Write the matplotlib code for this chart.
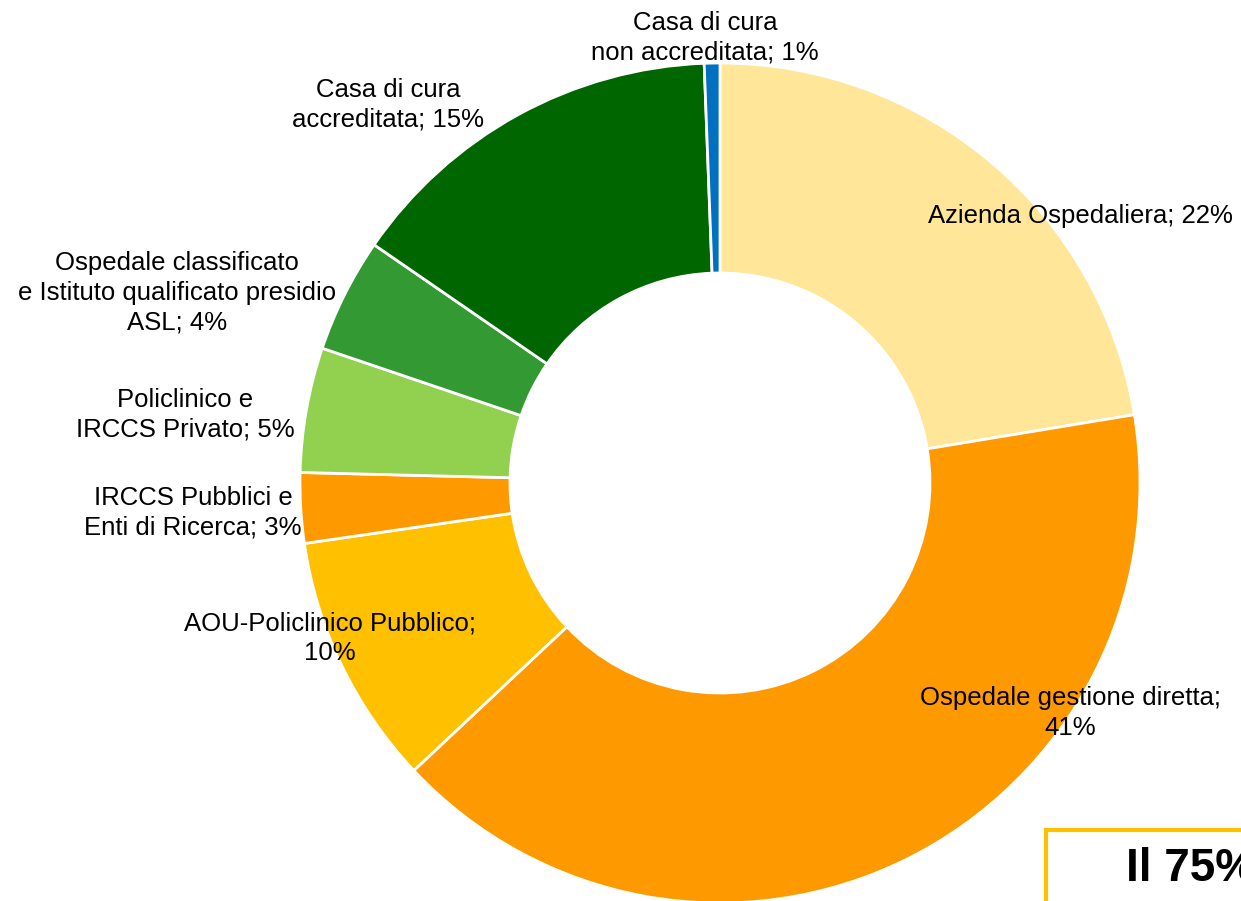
import numpy as np
import matplotlib.pyplot as plt
from matplotlib.patches import Rectangle

plt.rcParams['font.family'] = ['Liberation Sans', 'DejaVu Sans']

# data (clockwise from top)
labels = ['Azienda Ospedaliera; 22%',
          'Ospedale gestione diretta;\n41%',
          'AOU-Policlinico Pubblico;\n10%',
          'IRCCS Pubblici e\nEnti di Ricerca; 3%',
          'Policlinico e\nIRCCS Privato; 5%',
          'Ospedale classificato\ne Istituto qualificato presidio\nASL; 4%',
          'Casa di cura\naccreditata; 15%',
          'Casa di cura\nnon accreditata; 1%']
values = [22.4, 40.6, 9.7, 2.7, 4.8, 4.4, 14.8, 0.6]
colors = ['#FFE699', '#FF9900', '#FFC000', '#FF9900',
          '#92D050', '#339933', '#006600', '#0070C0']
# label positions in pixel coords (x, y from top)
label_pos = [(1080, 216), (1070, 713), (330, 638), (193, 513),
             (185, 415), (177, 293), (388, 105), (705, 38)]

W, H = 1241, 901
fig = plt.figure(figsize=(W / 100, H / 100), dpi=100)
ax = fig.add_axes([0, 0, 1, 1])

cx, cy, R = 720, H - 483, 420
ax.pie(values, colors=colors, startangle=90, counterclock=False,
       center=(cx, cy), radius=R,
       wedgeprops=dict(width=R * 0.5, edgecolor='white', linewidth=2))

for lab, (x, y) in zip(labels, label_pos):
    ax.text(x, H - y, lab, ha='center', va='center', fontsize=18.5,
            linespacing=1.3, color='black')

# box bottom right (cut off by the figure edge, as in the original)
ax.add_patch(Rectangle((1046, -20), 300, H - 830 + 20, fill=False,
                       edgecolor='#FFC000', linewidth=3))
ax.text(1126, H - 869, 'Il 75%', ha='left', va='center', fontsize=33,
        fontweight='bold', color='black')

ax.set_xlim(0, W)
ax.set_ylim(0, H)
ax.set_aspect('equal')
ax.axis('off')

plt.savefig('out.png', dpi=100)
